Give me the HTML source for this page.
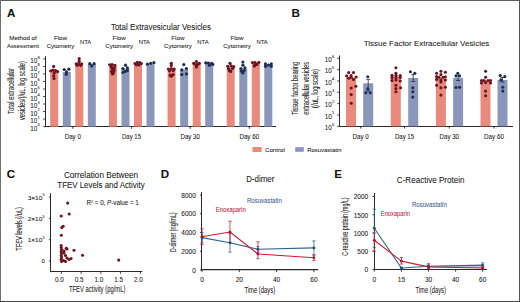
<!DOCTYPE html>
<html><head><meta charset="utf-8"><style>
html,body{margin:0;padding:0;background:#fff;}
body{width:520px;height:302px;overflow:hidden;}
svg{display:block;font-family:"Liberation Sans", sans-serif;}
</style></head><body>
<svg width="520" height="302" viewBox="0 0 520 302">
<rect x="0" y="0" width="520" height="302" fill="#fff"/>
<text x="7.0" y="16.6" font-size="11.6" text-anchor="start" fill="#111" stroke="#111" stroke-width="0.07" font-weight="bold" >A</text>
<text x="291.4" y="16.8" font-size="11.6" text-anchor="start" fill="#111" stroke="#111" stroke-width="0.07" font-weight="bold" >B</text>
<text x="6.7" y="178.0" font-size="11.6" text-anchor="start" fill="#111" stroke="#111" stroke-width="0.07" font-weight="bold" >C</text>
<text x="160.8" y="177.6" font-size="11.6" text-anchor="start" fill="#111" stroke="#111" stroke-width="0.07" font-weight="bold" >D</text>
<text x="334.3" y="178.4" font-size="11.6" text-anchor="start" fill="#111" stroke="#111" stroke-width="0.07" font-weight="bold" >E</text>
<text x="161" y="30" font-size="8.4" text-anchor="middle" fill="#222" stroke="#222" stroke-width="0.07" textLength="100" lengthAdjust="spacingAndGlyphs" >Total Extravesicular Vesicles</text>
<text x="23" y="40.2" font-size="6.1" text-anchor="middle" fill="#222" stroke="#222" stroke-width="0.07" textLength="27.5" lengthAdjust="spacingAndGlyphs" >Method of</text>
<text x="23" y="47.8" font-size="6.1" text-anchor="middle" fill="#222" stroke="#222" stroke-width="0.07" textLength="32" lengthAdjust="spacingAndGlyphs" >Assessment</text>
<text x="60.5" y="40.2" font-size="6.2" text-anchor="middle" fill="#222" stroke="#222" stroke-width="0.07" textLength="13.2" lengthAdjust="spacingAndGlyphs" >Flow</text>
<text x="60.5" y="47.8" font-size="6.2" text-anchor="middle" fill="#222" stroke="#222" stroke-width="0.07" textLength="27.7" lengthAdjust="spacingAndGlyphs" >Cytometry</text>
<text x="85.6" y="43.7" font-size="6.2" text-anchor="middle" fill="#222" stroke="#222" stroke-width="0.07" textLength="11.3" lengthAdjust="spacingAndGlyphs" >NTA</text>
<text x="119.2" y="40.2" font-size="6.2" text-anchor="middle" fill="#222" stroke="#222" stroke-width="0.07" textLength="13.2" lengthAdjust="spacingAndGlyphs" >Flow</text>
<text x="119.2" y="47.8" font-size="6.2" text-anchor="middle" fill="#222" stroke="#222" stroke-width="0.07" textLength="27.7" lengthAdjust="spacingAndGlyphs" >Cytometry</text>
<text x="144.3" y="43.7" font-size="6.2" text-anchor="middle" fill="#222" stroke="#222" stroke-width="0.07" textLength="11.3" lengthAdjust="spacingAndGlyphs" >NTA</text>
<text x="177.9" y="40.2" font-size="6.2" text-anchor="middle" fill="#222" stroke="#222" stroke-width="0.07" textLength="13.2" lengthAdjust="spacingAndGlyphs" >Flow</text>
<text x="177.9" y="47.8" font-size="6.2" text-anchor="middle" fill="#222" stroke="#222" stroke-width="0.07" textLength="27.7" lengthAdjust="spacingAndGlyphs" >Cytometry</text>
<text x="203.0" y="43.7" font-size="6.2" text-anchor="middle" fill="#222" stroke="#222" stroke-width="0.07" textLength="11.3" lengthAdjust="spacingAndGlyphs" >NTA</text>
<text x="237.0" y="40.2" font-size="6.2" text-anchor="middle" fill="#222" stroke="#222" stroke-width="0.07" textLength="13.2" lengthAdjust="spacingAndGlyphs" >Flow</text>
<text x="237.0" y="47.8" font-size="6.2" text-anchor="middle" fill="#222" stroke="#222" stroke-width="0.07" textLength="27.7" lengthAdjust="spacingAndGlyphs" >Cytometry</text>
<text x="262.09999999999997" y="43.7" font-size="6.2" text-anchor="middle" fill="#222" stroke="#222" stroke-width="0.07" textLength="11.3" lengthAdjust="spacingAndGlyphs" >NTA</text>
<line x1="45.5" y1="56.2" x2="45.5" y2="127.1" stroke="#2a2a2a" stroke-width="1"/>
<line x1="45" y1="126.5" x2="276" y2="126.5" stroke="#2a2a2a" stroke-width="1.1"/>
<line x1="43.2" y1="126.6" x2="45.4" y2="126.6" stroke="#2a2a2a" stroke-width="0.9"/>
<text x="37.2" y="130.79999999999998" font-size="6.3" text-anchor="end" fill="#222" stroke="#222" stroke-width="0.07" >10</text>
<text x="37.5" y="126.39999999999998" font-size="4" text-anchor="start" fill="#222" stroke="#222" stroke-width="0.07" >0</text>
<line x1="43.2" y1="119.08" x2="45.4" y2="119.08" stroke="#2a2a2a" stroke-width="0.9"/>
<text x="37.2" y="123.28" font-size="6.3" text-anchor="end" fill="#222" stroke="#222" stroke-width="0.07" >10</text>
<text x="37.5" y="118.88" font-size="4" text-anchor="start" fill="#222" stroke="#222" stroke-width="0.07" >1</text>
<line x1="43.2" y1="111.56" x2="45.4" y2="111.56" stroke="#2a2a2a" stroke-width="0.9"/>
<text x="37.2" y="115.76" font-size="6.3" text-anchor="end" fill="#222" stroke="#222" stroke-width="0.07" >10</text>
<text x="37.5" y="111.36" font-size="4" text-anchor="start" fill="#222" stroke="#222" stroke-width="0.07" >2</text>
<line x1="43.2" y1="104.03999999999999" x2="45.4" y2="104.03999999999999" stroke="#2a2a2a" stroke-width="0.9"/>
<text x="37.2" y="108.24" font-size="6.3" text-anchor="end" fill="#222" stroke="#222" stroke-width="0.07" >10</text>
<text x="37.5" y="103.83999999999999" font-size="4" text-anchor="start" fill="#222" stroke="#222" stroke-width="0.07" >3</text>
<line x1="43.2" y1="96.52" x2="45.4" y2="96.52" stroke="#2a2a2a" stroke-width="0.9"/>
<text x="37.2" y="100.72" font-size="6.3" text-anchor="end" fill="#222" stroke="#222" stroke-width="0.07" >10</text>
<text x="37.5" y="96.32" font-size="4" text-anchor="start" fill="#222" stroke="#222" stroke-width="0.07" >4</text>
<line x1="43.2" y1="89.0" x2="45.4" y2="89.0" stroke="#2a2a2a" stroke-width="0.9"/>
<text x="37.2" y="93.2" font-size="6.3" text-anchor="end" fill="#222" stroke="#222" stroke-width="0.07" >10</text>
<text x="37.5" y="88.8" font-size="4" text-anchor="start" fill="#222" stroke="#222" stroke-width="0.07" >5</text>
<line x1="43.2" y1="81.47999999999999" x2="45.4" y2="81.47999999999999" stroke="#2a2a2a" stroke-width="0.9"/>
<text x="37.2" y="85.67999999999999" font-size="6.3" text-anchor="end" fill="#222" stroke="#222" stroke-width="0.07" >10</text>
<text x="37.5" y="81.27999999999999" font-size="4" text-anchor="start" fill="#222" stroke="#222" stroke-width="0.07" >6</text>
<line x1="43.2" y1="73.96" x2="45.4" y2="73.96" stroke="#2a2a2a" stroke-width="0.9"/>
<text x="37.2" y="78.16" font-size="6.3" text-anchor="end" fill="#222" stroke="#222" stroke-width="0.07" >10</text>
<text x="37.5" y="73.75999999999999" font-size="4" text-anchor="start" fill="#222" stroke="#222" stroke-width="0.07" >7</text>
<line x1="43.2" y1="66.44" x2="45.4" y2="66.44" stroke="#2a2a2a" stroke-width="0.9"/>
<text x="37.2" y="70.64" font-size="6.3" text-anchor="end" fill="#222" stroke="#222" stroke-width="0.07" >10</text>
<text x="37.5" y="66.24" font-size="4" text-anchor="start" fill="#222" stroke="#222" stroke-width="0.07" >8</text>
<line x1="43.2" y1="58.92" x2="45.4" y2="58.92" stroke="#2a2a2a" stroke-width="0.9"/>
<text x="37.2" y="63.120000000000005" font-size="6.3" text-anchor="end" fill="#222" stroke="#222" stroke-width="0.07" >10</text>
<text x="37.5" y="58.720000000000006" font-size="4" text-anchor="start" fill="#222" stroke="#222" stroke-width="0.07" >9</text>
<text transform="translate(14.4,91) rotate(-90)" x="0" y="0" font-size="8.6" text-anchor="middle" fill="#222" stroke="#222" stroke-width="0.07" textLength="46" lengthAdjust="spacingAndGlyphs">Total extracellular</text>
<text transform="translate(24.6,90.6) rotate(-90)" x="0" y="0" font-size="8.6" text-anchor="middle" fill="#222" stroke="#222" stroke-width="0.07" textLength="59" lengthAdjust="spacingAndGlyphs">vesicles/(/uL, log scale)</text>
<rect x="50.2" y="71.5" width="8" height="55.099999999999994" fill="#e98a7c"/>
<rect x="62.800000000000004" y="71.9" width="8" height="54.69999999999999" fill="#8a97bb"/>
<rect x="75.30000000000001" y="64.6" width="8" height="62.0" fill="#e98a7c"/>
<rect x="87.80000000000001" y="64.0" width="8" height="62.599999999999994" fill="#8a97bb"/>
<line x1="72.8" y1="126.6" x2="72.8" y2="128.79999999999998" stroke="#2a2a2a" stroke-width="0.9"/>
<text x="72.8" y="138.8" font-size="6.7" text-anchor="middle" fill="#222" stroke="#222" stroke-width="0.07" textLength="16.2" lengthAdjust="spacingAndGlyphs" >Day 0</text>
<rect x="108.9" y="66.5" width="8" height="60.099999999999994" fill="#e98a7c"/>
<rect x="121.5" y="68.8" width="8" height="57.8" fill="#8a97bb"/>
<rect x="134.0" y="63.9" width="8" height="62.699999999999996" fill="#e98a7c"/>
<rect x="146.5" y="64.2" width="8" height="62.39999999999999" fill="#8a97bb"/>
<line x1="131.5" y1="126.6" x2="131.5" y2="128.79999999999998" stroke="#2a2a2a" stroke-width="0.9"/>
<text x="131.5" y="138.8" font-size="6.7" text-anchor="middle" fill="#222" stroke="#222" stroke-width="0.07" textLength="19.0" lengthAdjust="spacingAndGlyphs" >Day 15</text>
<rect x="167.6" y="70.0" width="8" height="56.599999999999994" fill="#e98a7c"/>
<rect x="180.2" y="69.5" width="8" height="57.099999999999994" fill="#8a97bb"/>
<rect x="192.7" y="63.8" width="8" height="62.8" fill="#e98a7c"/>
<rect x="205.2" y="63.6" width="8" height="62.99999999999999" fill="#8a97bb"/>
<line x1="190.20000000000002" y1="126.6" x2="190.20000000000002" y2="128.79999999999998" stroke="#2a2a2a" stroke-width="0.9"/>
<text x="190.20000000000002" y="138.8" font-size="6.7" text-anchor="middle" fill="#222" stroke="#222" stroke-width="0.07" textLength="19.4" lengthAdjust="spacingAndGlyphs" >Day 30</text>
<rect x="226.7" y="67.9" width="8" height="58.69999999999999" fill="#e98a7c"/>
<rect x="239.29999999999998" y="68.8" width="8" height="57.8" fill="#8a97bb"/>
<rect x="251.79999999999998" y="63.9" width="8" height="62.699999999999996" fill="#e98a7c"/>
<rect x="264.3" y="64.6" width="8" height="62.0" fill="#8a97bb"/>
<line x1="249.3" y1="126.6" x2="249.3" y2="128.79999999999998" stroke="#2a2a2a" stroke-width="0.9"/>
<text x="249.3" y="138.8" font-size="6.7" text-anchor="middle" fill="#222" stroke="#222" stroke-width="0.07" textLength="19.8" lengthAdjust="spacingAndGlyphs" >Day 60</text>
<circle cx="53.7" cy="66.4" r="1.6" fill="#6e1420"/>
<circle cx="50.800000000000004" cy="70.8" r="1.6" fill="#6e1420"/>
<circle cx="53.1" cy="70.2" r="1.6" fill="#6e1420"/>
<circle cx="55.6" cy="70.6" r="1.6" fill="#6e1420"/>
<circle cx="57.6" cy="71.6" r="1.6" fill="#6e1420"/>
<circle cx="54.2" cy="72.9" r="1.6" fill="#6e1420"/>
<circle cx="53.7" cy="75.9" r="1.6" fill="#6e1420"/>
<circle cx="54.0" cy="78.5" r="1.6" fill="#6e1420"/>
<circle cx="64.2" cy="69.5" r="1.6" fill="#1e2d52"/>
<circle cx="68.9" cy="69.2" r="1.6" fill="#1e2d52"/>
<circle cx="66.5" cy="71.9" r="1.6" fill="#1e2d52"/>
<circle cx="66.2" cy="74.3" r="1.6" fill="#1e2d52"/>
<circle cx="79.20000000000002" cy="58.7" r="1.6" fill="#6e1420"/>
<circle cx="79.20000000000002" cy="61.3" r="1.6" fill="#6e1420"/>
<circle cx="76.20000000000002" cy="63.8" r="1.6" fill="#6e1420"/>
<circle cx="78.80000000000001" cy="63.6" r="1.6" fill="#6e1420"/>
<circle cx="81.60000000000001" cy="63.8" r="1.6" fill="#6e1420"/>
<circle cx="77.20000000000002" cy="65.3" r="1.6" fill="#6e1420"/>
<circle cx="80.70000000000002" cy="65.3" r="1.6" fill="#6e1420"/>
<circle cx="89.80000000000001" cy="63.7" r="1.6" fill="#1e2d52"/>
<circle cx="94.10000000000001" cy="63.7" r="1.6" fill="#1e2d52"/>
<circle cx="91.80000000000001" cy="65.9" r="1.6" fill="#1e2d52"/>
<circle cx="109.7" cy="64.8" r="1.6" fill="#6e1420"/>
<circle cx="112.10000000000001" cy="64.6" r="1.6" fill="#6e1420"/>
<circle cx="114.9" cy="65.3" r="1.6" fill="#6e1420"/>
<circle cx="111.4" cy="67.2" r="1.6" fill="#6e1420"/>
<circle cx="114.4" cy="67.6" r="1.6" fill="#6e1420"/>
<circle cx="112.5" cy="69.4" r="1.6" fill="#6e1420"/>
<circle cx="114.10000000000001" cy="70.4" r="1.6" fill="#6e1420"/>
<circle cx="111.5" cy="71.6" r="1.6" fill="#6e1420"/>
<circle cx="113.30000000000001" cy="73.2" r="1.6" fill="#6e1420"/>
<circle cx="112.4" cy="74.0" r="1.6" fill="#6e1420"/>
<circle cx="125.5" cy="65.2" r="1.6" fill="#1e2d52"/>
<circle cx="122.9" cy="68.6" r="1.6" fill="#1e2d52"/>
<circle cx="127.4" cy="67.9" r="1.6" fill="#1e2d52"/>
<circle cx="127.4" cy="70.6" r="1.6" fill="#1e2d52"/>
<circle cx="122.9" cy="72.5" r="1.6" fill="#1e2d52"/>
<circle cx="125.1" cy="71.4" r="1.6" fill="#1e2d52"/>
<circle cx="135.0" cy="63.6" r="1.6" fill="#6e1420"/>
<circle cx="137.4" cy="62.4" r="1.6" fill="#6e1420"/>
<circle cx="139.8" cy="62.6" r="1.6" fill="#6e1420"/>
<circle cx="141.3" cy="63.6" r="1.6" fill="#6e1420"/>
<circle cx="136.5" cy="64.8" r="1.6" fill="#6e1420"/>
<circle cx="139.0" cy="64.8" r="1.6" fill="#6e1420"/>
<circle cx="147.4" cy="64.2" r="1.6" fill="#1e2d52"/>
<circle cx="150.7" cy="63.3" r="1.6" fill="#1e2d52"/>
<circle cx="153.9" cy="62.7" r="1.6" fill="#1e2d52"/>
<circle cx="171.29999999999998" cy="63.3" r="1.6" fill="#6e1420"/>
<circle cx="171.29999999999998" cy="65.4" r="1.6" fill="#6e1420"/>
<circle cx="168.4" cy="69.0" r="1.6" fill="#6e1420"/>
<circle cx="171.29999999999998" cy="68.6" r="1.6" fill="#6e1420"/>
<circle cx="174.2" cy="69.0" r="1.6" fill="#6e1420"/>
<circle cx="169.5" cy="70.8" r="1.6" fill="#6e1420"/>
<circle cx="173.2" cy="70.6" r="1.6" fill="#6e1420"/>
<circle cx="170.2" cy="75.2" r="1.6" fill="#6e1420"/>
<circle cx="173.2" cy="74.6" r="1.6" fill="#6e1420"/>
<circle cx="171.2" cy="76.2" r="1.6" fill="#6e1420"/>
<circle cx="183.79999999999998" cy="64.6" r="1.6" fill="#1e2d52"/>
<circle cx="181.79999999999998" cy="69.9" r="1.6" fill="#1e2d52"/>
<circle cx="186.39999999999998" cy="68.6" r="1.6" fill="#1e2d52"/>
<circle cx="181.79999999999998" cy="74.5" r="1.6" fill="#1e2d52"/>
<circle cx="186.39999999999998" cy="73.9" r="1.6" fill="#1e2d52"/>
<circle cx="196.39999999999998" cy="61.5" r="1.6" fill="#6e1420"/>
<circle cx="193.7" cy="63.3" r="1.6" fill="#6e1420"/>
<circle cx="199.29999999999998" cy="63.3" r="1.6" fill="#6e1420"/>
<circle cx="195.7" cy="64.6" r="1.6" fill="#6e1420"/>
<circle cx="197.7" cy="64.4" r="1.6" fill="#6e1420"/>
<circle cx="196.39999999999998" cy="67.0" r="1.6" fill="#6e1420"/>
<circle cx="205.79999999999998" cy="62.8" r="1.6" fill="#1e2d52"/>
<circle cx="208.39999999999998" cy="63.0" r="1.6" fill="#1e2d52"/>
<circle cx="211.6" cy="63.3" r="1.6" fill="#1e2d52"/>
<circle cx="212.79999999999998" cy="64.4" r="1.6" fill="#1e2d52"/>
<circle cx="209.39999999999998" cy="65.3" r="1.6" fill="#1e2d52"/>
<circle cx="230.0" cy="63.3" r="1.6" fill="#6e1420"/>
<circle cx="227.7" cy="66.3" r="1.6" fill="#6e1420"/>
<circle cx="231.1" cy="65.9" r="1.6" fill="#6e1420"/>
<circle cx="233.7" cy="66.6" r="1.6" fill="#6e1420"/>
<circle cx="228.6" cy="68.6" r="1.6" fill="#6e1420"/>
<circle cx="232.5" cy="68.4" r="1.6" fill="#6e1420"/>
<circle cx="229.39999999999998" cy="70.6" r="1.6" fill="#6e1420"/>
<circle cx="230.7" cy="71.4" r="1.6" fill="#6e1420"/>
<circle cx="242.89999999999998" cy="62.0" r="1.6" fill="#1e2d52"/>
<circle cx="242.89999999999998" cy="65.2" r="1.6" fill="#1e2d52"/>
<circle cx="240.89999999999998" cy="68.6" r="1.6" fill="#1e2d52"/>
<circle cx="244.89999999999998" cy="67.9" r="1.6" fill="#1e2d52"/>
<circle cx="241.49999999999997" cy="71.2" r="1.6" fill="#1e2d52"/>
<circle cx="244.2" cy="70.6" r="1.6" fill="#1e2d52"/>
<circle cx="242.89999999999998" cy="73.0" r="1.6" fill="#1e2d52"/>
<circle cx="252.49999999999997" cy="62.6" r="1.6" fill="#6e1420"/>
<circle cx="254.99999999999997" cy="62.6" r="1.6" fill="#6e1420"/>
<circle cx="258.79999999999995" cy="62.4" r="1.6" fill="#6e1420"/>
<circle cx="255.2" cy="64.6" r="1.6" fill="#6e1420"/>
<circle cx="257.0" cy="64.4" r="1.6" fill="#6e1420"/>
<circle cx="254.39999999999998" cy="65.9" r="1.6" fill="#6e1420"/>
<circle cx="265.5" cy="63.9" r="1.6" fill="#1e2d52"/>
<circle cx="265.5" cy="66.3" r="1.6" fill="#1e2d52"/>
<circle cx="268.5" cy="65.0" r="1.6" fill="#1e2d52"/>
<circle cx="271.3" cy="63.9" r="1.6" fill="#1e2d52"/>
<circle cx="271.3" cy="66.3" r="1.6" fill="#1e2d52"/>
<text x="426.5" y="46.3" font-size="8" text-anchor="middle" fill="#222" stroke="#222" stroke-width="0.07" textLength="125.7" lengthAdjust="spacingAndGlyphs" >Tissue Factor Extracellular Vesicles</text>
<line x1="339.5" y1="55.5" x2="339.5" y2="126.8" stroke="#2a2a2a" stroke-width="1"/>
<line x1="339" y1="126.5" x2="513" y2="126.5" stroke="#2a2a2a" stroke-width="1.1"/>
<line x1="337.3" y1="126.3" x2="339.4" y2="126.3" stroke="#2a2a2a" stroke-width="0.9"/>
<text x="331.8" y="129.9" font-size="6.3" text-anchor="end" fill="#222" stroke="#222" stroke-width="0.07" >10</text>
<text x="332.1" y="125.5" font-size="4" text-anchor="start" fill="#222" stroke="#222" stroke-width="0.07" >0</text>
<line x1="337.3" y1="114.97" x2="339.4" y2="114.97" stroke="#2a2a2a" stroke-width="0.9"/>
<text x="331.8" y="118.57" font-size="6.3" text-anchor="end" fill="#222" stroke="#222" stroke-width="0.07" >10</text>
<text x="332.1" y="114.16999999999999" font-size="4" text-anchor="start" fill="#222" stroke="#222" stroke-width="0.07" >1</text>
<line x1="337.3" y1="103.64" x2="339.4" y2="103.64" stroke="#2a2a2a" stroke-width="0.9"/>
<text x="331.8" y="107.24" font-size="6.3" text-anchor="end" fill="#222" stroke="#222" stroke-width="0.07" >10</text>
<text x="332.1" y="102.83999999999999" font-size="4" text-anchor="start" fill="#222" stroke="#222" stroke-width="0.07" >2</text>
<line x1="337.3" y1="92.31" x2="339.4" y2="92.31" stroke="#2a2a2a" stroke-width="0.9"/>
<text x="331.8" y="95.91" font-size="6.3" text-anchor="end" fill="#222" stroke="#222" stroke-width="0.07" >10</text>
<text x="332.1" y="91.50999999999999" font-size="4" text-anchor="start" fill="#222" stroke="#222" stroke-width="0.07" >3</text>
<line x1="337.3" y1="80.97999999999999" x2="339.4" y2="80.97999999999999" stroke="#2a2a2a" stroke-width="0.9"/>
<text x="331.8" y="84.57999999999998" font-size="6.3" text-anchor="end" fill="#222" stroke="#222" stroke-width="0.07" >10</text>
<text x="332.1" y="80.17999999999998" font-size="4" text-anchor="start" fill="#222" stroke="#222" stroke-width="0.07" >4</text>
<line x1="337.3" y1="69.65" x2="339.4" y2="69.65" stroke="#2a2a2a" stroke-width="0.9"/>
<text x="331.8" y="73.25" font-size="6.3" text-anchor="end" fill="#222" stroke="#222" stroke-width="0.07" >10</text>
<text x="332.1" y="68.85" font-size="4" text-anchor="start" fill="#222" stroke="#222" stroke-width="0.07" >5</text>
<line x1="337.3" y1="58.31999999999999" x2="339.4" y2="58.31999999999999" stroke="#2a2a2a" stroke-width="0.9"/>
<text x="331.8" y="61.919999999999995" font-size="6.3" text-anchor="end" fill="#222" stroke="#222" stroke-width="0.07" >10</text>
<text x="332.1" y="57.519999999999996" font-size="4" text-anchor="start" fill="#222" stroke="#222" stroke-width="0.07" >6</text>
<text transform="translate(298.4,88.5) rotate(-90)" x="0" y="0" font-size="8.2" text-anchor="middle" fill="#222" stroke="#222" stroke-width="0.07" textLength="53.2" lengthAdjust="spacingAndGlyphs">Tissue factor bearing</text>
<text transform="translate(308.8,88.3) rotate(-90)" x="0" y="0" font-size="8.2" text-anchor="middle" fill="#222" stroke="#222" stroke-width="0.07" textLength="52.8" lengthAdjust="spacingAndGlyphs">extracellular vesicles</text>
<text transform="translate(318.2,88.5) rotate(-90)" x="0" y="0" font-size="8.2" text-anchor="middle" fill="#222" stroke="#222" stroke-width="0.07" textLength="38.8" lengthAdjust="spacingAndGlyphs">(/uL, log scale)</text>
<rect x="346" y="77.5" width="10" height="48.8" fill="#e98a7c"/>
<rect x="363.2" y="83.3" width="10" height="43.0" fill="#8a97bb"/>
<line x1="360.7" y1="126.3" x2="360.7" y2="128.5" stroke="#2a2a2a" stroke-width="0.9"/>
<text x="360.7" y="139" font-size="6.7" text-anchor="middle" fill="#222" stroke="#222" stroke-width="0.07" textLength="16.2" lengthAdjust="spacingAndGlyphs" >Day 0</text>
<rect x="390.8" y="76.5" width="10" height="49.8" fill="#e98a7c"/>
<rect x="408.2" y="78" width="10" height="48.3" fill="#8a97bb"/>
<line x1="404.5" y1="126.3" x2="404.5" y2="128.5" stroke="#2a2a2a" stroke-width="0.9"/>
<text x="404.5" y="139" font-size="6.7" text-anchor="middle" fill="#222" stroke="#222" stroke-width="0.07" textLength="19.0" lengthAdjust="spacingAndGlyphs" >Day 15</text>
<rect x="435.9" y="78" width="10" height="48.3" fill="#e98a7c"/>
<rect x="453.1" y="78" width="10" height="48.3" fill="#8a97bb"/>
<line x1="449.3" y1="126.3" x2="449.3" y2="128.5" stroke="#2a2a2a" stroke-width="0.9"/>
<text x="449.3" y="139" font-size="6.7" text-anchor="middle" fill="#222" stroke="#222" stroke-width="0.07" textLength="19.4" lengthAdjust="spacingAndGlyphs" >Day 30</text>
<rect x="480.5" y="80.4" width="10" height="45.89999999999999" fill="#e98a7c"/>
<rect x="497.5" y="80" width="10" height="46.3" fill="#8a97bb"/>
<line x1="494" y1="126.3" x2="494" y2="128.5" stroke="#2a2a2a" stroke-width="0.9"/>
<text x="494" y="139" font-size="6.7" text-anchor="middle" fill="#222" stroke="#222" stroke-width="0.07" textLength="19.8" lengthAdjust="spacingAndGlyphs" >Day 60</text>
<line x1="368.2" y1="79.4" x2="368.2" y2="91" stroke="#1e2d52" stroke-width="0.8"/>
<line x1="366.2" y1="79.4" x2="370.2" y2="79.4" stroke="#1e2d52" stroke-width="0.8"/>
<line x1="366.2" y1="91" x2="370.2" y2="91" stroke="#1e2d52" stroke-width="0.8"/>
<line x1="413.2" y1="74.6" x2="413.2" y2="81.5" stroke="#1e2d52" stroke-width="0.8"/>
<line x1="411.2" y1="74.6" x2="415.2" y2="74.6" stroke="#1e2d52" stroke-width="0.8"/>
<line x1="411.2" y1="81.5" x2="415.2" y2="81.5" stroke="#1e2d52" stroke-width="0.8"/>
<line x1="458.1" y1="75.6" x2="458.1" y2="80.5" stroke="#1e2d52" stroke-width="0.8"/>
<line x1="456.1" y1="75.6" x2="460.1" y2="75.6" stroke="#1e2d52" stroke-width="0.8"/>
<line x1="456.1" y1="80.5" x2="460.1" y2="80.5" stroke="#1e2d52" stroke-width="0.8"/>
<line x1="502.5" y1="77.5" x2="502.5" y2="82" stroke="#1e2d52" stroke-width="0.8"/>
<line x1="500.5" y1="77.5" x2="504.5" y2="77.5" stroke="#1e2d52" stroke-width="0.8"/>
<line x1="500.5" y1="82" x2="504.5" y2="82" stroke="#1e2d52" stroke-width="0.8"/>
<circle cx="348.7" cy="72.6" r="1.55" fill="#6e1420"/>
<circle cx="353.5" cy="72.6" r="1.55" fill="#6e1420"/>
<circle cx="346.6" cy="75.9" r="1.55" fill="#6e1420"/>
<circle cx="351.1" cy="75.6" r="1.55" fill="#6e1420"/>
<circle cx="356.2" cy="77.0" r="1.55" fill="#6e1420"/>
<circle cx="348.7" cy="78.3" r="1.55" fill="#6e1420"/>
<circle cx="353.5" cy="79.4" r="1.55" fill="#6e1420"/>
<circle cx="351.2" cy="88.0" r="1.55" fill="#6e1420"/>
<circle cx="355.9" cy="86.3" r="1.55" fill="#6e1420"/>
<circle cx="351.2" cy="94.6" r="1.55" fill="#6e1420"/>
<circle cx="351.2" cy="103.3" r="1.55" fill="#6e1420"/>
<circle cx="351.1" cy="77.2" r="1.55" fill="#6e1420"/>
<circle cx="395.9" cy="67.7" r="1.55" fill="#6e1420"/>
<circle cx="395.9" cy="73.2" r="1.55" fill="#6e1420"/>
<circle cx="392" cy="75.2" r="1.55" fill="#6e1420"/>
<circle cx="396" cy="75.2" r="1.55" fill="#6e1420"/>
<circle cx="400.2" cy="75.5" r="1.55" fill="#6e1420"/>
<circle cx="392" cy="77.4" r="1.55" fill="#6e1420"/>
<circle cx="396" cy="77.4" r="1.55" fill="#6e1420"/>
<circle cx="400.2" cy="77.4" r="1.55" fill="#6e1420"/>
<circle cx="392" cy="80.5" r="1.55" fill="#6e1420"/>
<circle cx="396" cy="80" r="1.55" fill="#6e1420"/>
<circle cx="400.2" cy="81" r="1.55" fill="#6e1420"/>
<circle cx="395.9" cy="85.2" r="1.55" fill="#6e1420"/>
<circle cx="400.6" cy="87.8" r="1.55" fill="#6e1420"/>
<circle cx="395.9" cy="88.5" r="1.55" fill="#6e1420"/>
<circle cx="395.9" cy="91.8" r="1.55" fill="#6e1420"/>
<circle cx="436.6" cy="73.2" r="1.55" fill="#6e1420"/>
<circle cx="440.9" cy="71.3" r="1.55" fill="#6e1420"/>
<circle cx="445.4" cy="72.2" r="1.55" fill="#6e1420"/>
<circle cx="436.6" cy="76.6" r="1.55" fill="#6e1420"/>
<circle cx="440.9" cy="74.6" r="1.55" fill="#6e1420"/>
<circle cx="439" cy="77.2" r="1.55" fill="#6e1420"/>
<circle cx="443" cy="77.2" r="1.55" fill="#6e1420"/>
<circle cx="445.4" cy="76.8" r="1.55" fill="#6e1420"/>
<circle cx="436.6" cy="79.4" r="1.55" fill="#6e1420"/>
<circle cx="440.9" cy="80" r="1.55" fill="#6e1420"/>
<circle cx="445.4" cy="80" r="1.55" fill="#6e1420"/>
<circle cx="440.9" cy="81.9" r="1.55" fill="#6e1420"/>
<circle cx="436.6" cy="85.2" r="1.55" fill="#6e1420"/>
<circle cx="440.9" cy="87.8" r="1.55" fill="#6e1420"/>
<circle cx="445.4" cy="87.2" r="1.55" fill="#6e1420"/>
<circle cx="440.9" cy="95.1" r="1.55" fill="#6e1420"/>
<circle cx="485.6" cy="71.3" r="1.55" fill="#6e1420"/>
<circle cx="485.6" cy="77.2" r="1.55" fill="#6e1420"/>
<circle cx="481.5" cy="80.5" r="1.55" fill="#6e1420"/>
<circle cx="484" cy="80.5" r="1.55" fill="#6e1420"/>
<circle cx="488" cy="80.5" r="1.55" fill="#6e1420"/>
<circle cx="490.5" cy="80.5" r="1.55" fill="#6e1420"/>
<circle cx="481.5" cy="83" r="1.55" fill="#6e1420"/>
<circle cx="485.6" cy="82.6" r="1.55" fill="#6e1420"/>
<circle cx="490.5" cy="83" r="1.55" fill="#6e1420"/>
<circle cx="485.6" cy="91.1" r="1.55" fill="#6e1420"/>
<circle cx="485.6" cy="95.8" r="1.55" fill="#6e1420"/>
<circle cx="367.8" cy="76.7" r="1.55" fill="#1e2d52"/>
<circle cx="367.8" cy="88.8" r="1.55" fill="#1e2d52"/>
<circle cx="365.8" cy="92.8" r="1.55" fill="#1e2d52"/>
<circle cx="370.2" cy="92.8" r="1.55" fill="#1e2d52"/>
<circle cx="410.4" cy="71.7" r="1.55" fill="#1e2d52"/>
<circle cx="414.8" cy="73.2" r="1.55" fill="#1e2d52"/>
<circle cx="412.8" cy="87.8" r="1.55" fill="#1e2d52"/>
<circle cx="412.8" cy="91.8" r="1.55" fill="#1e2d52"/>
<circle cx="412.8" cy="97.1" r="1.55" fill="#1e2d52"/>
<circle cx="457.8" cy="73.2" r="1.55" fill="#1e2d52"/>
<circle cx="456" cy="75.9" r="1.55" fill="#1e2d52"/>
<circle cx="459.6" cy="75.9" r="1.55" fill="#1e2d52"/>
<circle cx="456" cy="87.5" r="1.55" fill="#1e2d52"/>
<circle cx="459.6" cy="87.2" r="1.55" fill="#1e2d52"/>
<circle cx="500.2" cy="75.6" r="1.55" fill="#1e2d52"/>
<circle cx="504.8" cy="76.6" r="1.55" fill="#1e2d52"/>
<circle cx="500.8" cy="79.9" r="1.55" fill="#1e2d52"/>
<circle cx="502.8" cy="87.2" r="1.55" fill="#1e2d52"/>
<circle cx="502.8" cy="91.1" r="1.55" fill="#1e2d52"/>
<rect x="252.5" y="147" width="9.2" height="5" fill="#e98a7c"/>
<text x="265" y="151.6" font-size="6.1" text-anchor="start" fill="#222" stroke="#222" stroke-width="0.07" textLength="19.8" lengthAdjust="spacingAndGlyphs" >Control</text>
<rect x="295.2" y="147.2" width="8.6" height="4.6" fill="#8c93c6"/>
<text x="307.2" y="151.6" font-size="6.1" text-anchor="start" fill="#222" stroke="#222" stroke-width="0.07" textLength="34.3" lengthAdjust="spacingAndGlyphs" >Rosuvastatin</text>
<text x="101" y="177.8" font-size="8.5" text-anchor="middle" fill="#222" stroke="#222" stroke-width="0.07" textLength="74.2" lengthAdjust="spacingAndGlyphs" >Correlation Between</text>
<text x="101" y="187.9" font-size="8.5" text-anchor="middle" fill="#222" stroke="#222" stroke-width="0.07" textLength="87.3" lengthAdjust="spacingAndGlyphs" >TFEV Levels and Activity</text>
<line x1="50.5" y1="193.3" x2="50.5" y2="272.1" stroke="#2a2a2a" stroke-width="1"/>
<line x1="50" y1="271.5" x2="142.3" y2="271.5" stroke="#2a2a2a" stroke-width="1"/>
<line x1="48.9" y1="261.0" x2="50.9" y2="261.0" stroke="#2a2a2a" stroke-width="0.9"/>
<text x="44.8" y="263.2" font-size="6" text-anchor="end" fill="#222" stroke="#222" stroke-width="0.07" >0</text>
<line x1="48.9" y1="239.7" x2="50.9" y2="239.7" stroke="#2a2a2a" stroke-width="0.9"/>
<text x="42.3" y="242.2" font-size="6.2" text-anchor="end" fill="#222" stroke="#222" stroke-width="0.07" textLength="14.6" lengthAdjust="spacingAndGlyphs" >1×10</text>
<text x="42.6" y="238.89999999999998" font-size="3.8" text-anchor="start" fill="#222" stroke="#222" stroke-width="0.07" >5</text>
<line x1="48.9" y1="218.4" x2="50.9" y2="218.4" stroke="#2a2a2a" stroke-width="0.9"/>
<text x="42.3" y="220.9" font-size="6.2" text-anchor="end" fill="#222" stroke="#222" stroke-width="0.07" textLength="14.6" lengthAdjust="spacingAndGlyphs" >2×10</text>
<text x="42.6" y="217.6" font-size="3.8" text-anchor="start" fill="#222" stroke="#222" stroke-width="0.07" >5</text>
<line x1="48.9" y1="197.1" x2="50.9" y2="197.1" stroke="#2a2a2a" stroke-width="0.9"/>
<text x="42.3" y="199.6" font-size="6.2" text-anchor="end" fill="#222" stroke="#222" stroke-width="0.07" textLength="14.6" lengthAdjust="spacingAndGlyphs" >3×10</text>
<text x="42.6" y="196.29999999999998" font-size="3.8" text-anchor="start" fill="#222" stroke="#222" stroke-width="0.07" >5</text>
<line x1="61.4" y1="271.6" x2="61.4" y2="273.8" stroke="#2a2a2a" stroke-width="0.9"/>
<text x="59.4" y="282.0" font-size="6.4" text-anchor="middle" fill="#222" stroke="#222" stroke-width="0.07" >0.0</text>
<line x1="81.15" y1="271.6" x2="81.15" y2="273.8" stroke="#2a2a2a" stroke-width="0.9"/>
<text x="79.15" y="282.0" font-size="6.4" text-anchor="middle" fill="#222" stroke="#222" stroke-width="0.07" >0.5</text>
<line x1="100.9" y1="271.6" x2="100.9" y2="273.8" stroke="#2a2a2a" stroke-width="0.9"/>
<text x="98.9" y="282.0" font-size="6.4" text-anchor="middle" fill="#222" stroke="#222" stroke-width="0.07" >1.0</text>
<line x1="120.65" y1="271.6" x2="120.65" y2="273.8" stroke="#2a2a2a" stroke-width="0.9"/>
<text x="118.65" y="282.0" font-size="6.4" text-anchor="middle" fill="#222" stroke="#222" stroke-width="0.07" >1.5</text>
<line x1="140.4" y1="271.6" x2="140.4" y2="273.8" stroke="#2a2a2a" stroke-width="0.9"/>
<text x="138.4" y="282.0" font-size="6.4" text-anchor="middle" fill="#222" stroke="#222" stroke-width="0.07" >2.0</text>
<text transform="translate(21.8,228.9) rotate(-90)" x="0" y="0" font-size="8.6" text-anchor="middle" fill="#222" stroke="#222" stroke-width="0.07" textLength="43.7" lengthAdjust="spacingAndGlyphs">TFEV levels (/uL)</text>
<text x="97.2" y="292.2" font-size="8.6" text-anchor="middle" fill="#222" stroke="#222" stroke-width="0.07" textLength="56.5" lengthAdjust="spacingAndGlyphs" >TFEV activity (pg/mL)</text>
<text x="86.5" y="205.4" font-size="6.5" text-anchor="start" fill="#222" stroke="#222" stroke-width="0.07" textLength="52.3" lengthAdjust="spacingAndGlyphs" >R<tspan font-size="3.8" dy="-2.6">2</tspan><tspan dy="2.6"> = 0, </tspan><tspan font-style="italic">P</tspan>-value = 1</text>
<circle cx="67.7" cy="203.1" r="1.55" fill="#6e1420"/>
<circle cx="69.2" cy="214" r="1.55" fill="#6e1420"/>
<circle cx="61.2" cy="216" r="1.55" fill="#6e1420"/>
<circle cx="63.1" cy="226.2" r="1.55" fill="#6e1420"/>
<circle cx="61.8" cy="227.6" r="1.55" fill="#6e1420"/>
<circle cx="61.3" cy="235.3" r="1.55" fill="#6e1420"/>
<circle cx="61.2" cy="245.5" r="1.55" fill="#6e1420"/>
<circle cx="61.2" cy="247.5" r="1.55" fill="#6e1420"/>
<circle cx="61.5" cy="249.5" r="1.55" fill="#6e1420"/>
<circle cx="61.2" cy="251.5" r="1.55" fill="#6e1420"/>
<circle cx="61.5" cy="253.5" r="1.55" fill="#6e1420"/>
<circle cx="61.2" cy="255.5" r="1.55" fill="#6e1420"/>
<circle cx="61.5" cy="257.5" r="1.55" fill="#6e1420"/>
<circle cx="61.2" cy="259.5" r="1.55" fill="#6e1420"/>
<circle cx="61.6" cy="261.5" r="1.55" fill="#6e1420"/>
<circle cx="66.2" cy="248.2" r="1.55" fill="#6e1420"/>
<circle cx="74" cy="250.2" r="1.55" fill="#6e1420"/>
<circle cx="82.6" cy="255.3" r="1.55" fill="#6e1420"/>
<circle cx="118.7" cy="260.1" r="1.55" fill="#6e1420"/>
<circle cx="64" cy="253" r="1.55" fill="#6e1420"/>
<circle cx="65.5" cy="255.5" r="1.55" fill="#6e1420"/>
<circle cx="67" cy="258" r="1.55" fill="#6e1420"/>
<circle cx="69" cy="259.5" r="1.55" fill="#6e1420"/>
<circle cx="71" cy="258.5" r="1.55" fill="#6e1420"/>
<circle cx="63.5" cy="260.5" r="1.55" fill="#6e1420"/>
<circle cx="65.5" cy="261.5" r="1.55" fill="#6e1420"/>
<circle cx="64" cy="251" r="1.55" fill="#6e1420"/>
<circle cx="67" cy="249" r="1.55" fill="#6e1420"/>
<text x="260.3" y="182.4" font-size="8.8" text-anchor="middle" fill="#222" stroke="#222" stroke-width="0.07" textLength="28.3" lengthAdjust="spacingAndGlyphs" >D-dimer</text>
<line x1="201.5" y1="192" x2="201.5" y2="270.4" stroke="#2a2a2a" stroke-width="1"/>
<line x1="201" y1="269.6" x2="318.2" y2="269.6" stroke="#2a2a2a" stroke-width="1.1"/>
<line x1="200" y1="269.9" x2="202" y2="269.9" stroke="#2a2a2a" stroke-width="0.9"/>
<text x="195.8" y="272.5" font-size="6.5" text-anchor="end" fill="#222" stroke="#222" stroke-width="0.07" >0</text>
<line x1="200" y1="251.2" x2="202" y2="251.2" stroke="#2a2a2a" stroke-width="0.9"/>
<text x="195.8" y="253.79999999999998" font-size="6.5" text-anchor="end" fill="#222" stroke="#222" stroke-width="0.07" >2000</text>
<line x1="200" y1="232.49999999999997" x2="202" y2="232.49999999999997" stroke="#2a2a2a" stroke-width="0.9"/>
<text x="195.8" y="235.09999999999997" font-size="6.5" text-anchor="end" fill="#222" stroke="#222" stroke-width="0.07" >4000</text>
<line x1="200" y1="213.79999999999998" x2="202" y2="213.79999999999998" stroke="#2a2a2a" stroke-width="0.9"/>
<text x="195.8" y="216.39999999999998" font-size="6.5" text-anchor="end" fill="#222" stroke="#222" stroke-width="0.07" >6000</text>
<line x1="200" y1="195.09999999999997" x2="202" y2="195.09999999999997" stroke="#2a2a2a" stroke-width="0.9"/>
<text x="195.8" y="197.69999999999996" font-size="6.5" text-anchor="end" fill="#222" stroke="#222" stroke-width="0.07" >8000</text>
<line x1="202.0" y1="269.9" x2="202.0" y2="272.09999999999997" stroke="#2a2a2a" stroke-width="0.9"/>
<text x="202.0" y="281.7" font-size="6.5" text-anchor="middle" fill="#222" stroke="#222" stroke-width="0.07" >0</text>
<line x1="239.3" y1="269.9" x2="239.3" y2="272.09999999999997" stroke="#2a2a2a" stroke-width="0.9"/>
<text x="239.3" y="281.7" font-size="6.5" text-anchor="middle" fill="#222" stroke="#222" stroke-width="0.07" >20</text>
<line x1="276.6" y1="269.9" x2="276.6" y2="272.09999999999997" stroke="#2a2a2a" stroke-width="0.9"/>
<text x="276.6" y="281.7" font-size="6.5" text-anchor="middle" fill="#222" stroke="#222" stroke-width="0.07" >40</text>
<line x1="313.9" y1="269.9" x2="313.9" y2="272.09999999999997" stroke="#2a2a2a" stroke-width="0.9"/>
<text x="313.9" y="281.7" font-size="6.5" text-anchor="middle" fill="#222" stroke="#222" stroke-width="0.07" >60</text>
<text transform="translate(175.8,232.3) rotate(-90)" x="0" y="0" font-size="8.6" text-anchor="middle" fill="#222" stroke="#222" stroke-width="0.07" textLength="40" lengthAdjust="spacingAndGlyphs">D-dimer (ng/mL)</text>
<text x="259.8" y="292.8" font-size="8.6" text-anchor="middle" fill="#222" stroke="#222" stroke-width="0.07" textLength="30.7" lengthAdjust="spacingAndGlyphs" >Time (days)</text>
<line x1="202.0" y1="232.49999999999997" x2="202.0" y2="242.78499999999997" stroke="#2f6590" stroke-width="0.8"/>
<line x1="200.4" y1="232.49999999999997" x2="203.6" y2="232.49999999999997" stroke="#2f6590" stroke-width="0.8"/>
<line x1="200.4" y1="242.78499999999997" x2="203.6" y2="242.78499999999997" stroke="#2f6590" stroke-width="0.8"/>
<line x1="229.975" y1="233.43499999999997" x2="229.975" y2="252.135" stroke="#2f6590" stroke-width="0.8"/>
<line x1="228.375" y1="233.43499999999997" x2="231.575" y2="233.43499999999997" stroke="#2f6590" stroke-width="0.8"/>
<line x1="228.375" y1="252.135" x2="231.575" y2="252.135" stroke="#2f6590" stroke-width="0.8"/>
<line x1="257.95" y1="246.52499999999998" x2="257.95" y2="252.135" stroke="#2f6590" stroke-width="0.8"/>
<line x1="256.34999999999997" y1="246.52499999999998" x2="259.55" y2="246.52499999999998" stroke="#2f6590" stroke-width="0.8"/>
<line x1="256.34999999999997" y1="252.135" x2="259.55" y2="252.135" stroke="#2f6590" stroke-width="0.8"/>
<line x1="313.9" y1="240.91499999999996" x2="313.9" y2="254.93999999999997" stroke="#2f6590" stroke-width="0.8"/>
<line x1="312.29999999999995" y1="240.91499999999996" x2="315.5" y2="240.91499999999996" stroke="#2f6590" stroke-width="0.8"/>
<line x1="312.29999999999995" y1="254.93999999999997" x2="315.5" y2="254.93999999999997" stroke="#2f6590" stroke-width="0.8"/>
<line x1="202.0" y1="228.76" x2="202.0" y2="244.65499999999997" stroke="#c8203f" stroke-width="0.8"/>
<line x1="200.4" y1="228.76" x2="203.6" y2="228.76" stroke="#c8203f" stroke-width="0.8"/>
<line x1="200.4" y1="244.65499999999997" x2="203.6" y2="244.65499999999997" stroke="#c8203f" stroke-width="0.8"/>
<line x1="229.975" y1="221.27999999999997" x2="229.975" y2="242.78499999999997" stroke="#c8203f" stroke-width="0.8"/>
<line x1="228.375" y1="221.27999999999997" x2="231.575" y2="221.27999999999997" stroke="#c8203f" stroke-width="0.8"/>
<line x1="228.375" y1="242.78499999999997" x2="231.575" y2="242.78499999999997" stroke="#c8203f" stroke-width="0.8"/>
<line x1="257.95" y1="241.84999999999997" x2="257.95" y2="258.67999999999995" stroke="#c8203f" stroke-width="0.8"/>
<line x1="256.34999999999997" y1="241.84999999999997" x2="259.55" y2="241.84999999999997" stroke="#c8203f" stroke-width="0.8"/>
<line x1="256.34999999999997" y1="258.67999999999995" x2="259.55" y2="258.67999999999995" stroke="#c8203f" stroke-width="0.8"/>
<line x1="313.9" y1="254.93999999999997" x2="313.9" y2="260.54999999999995" stroke="#c8203f" stroke-width="0.8"/>
<line x1="312.29999999999995" y1="254.93999999999997" x2="315.5" y2="254.93999999999997" stroke="#c8203f" stroke-width="0.8"/>
<line x1="312.29999999999995" y1="260.54999999999995" x2="315.5" y2="260.54999999999995" stroke="#c8203f" stroke-width="0.8"/>
<polyline points="202.0,237.6 230.0,242.8 257.9,249.3 313.9,247.9" fill="none" stroke="#2f6590" stroke-width="1.1" stroke-linejoin="round"/>
<polyline points="202.0,236.7 230.0,232.0 257.9,254.0 313.9,257.7" fill="none" stroke="#c8203f" stroke-width="1.1" stroke-linejoin="round"/>
<circle cx="202.0" cy="237.64249999999998" r="1.4" fill="#1f4a70"/>
<circle cx="229.975" cy="242.78499999999997" r="1.4" fill="#1f4a70"/>
<circle cx="257.95" cy="249.32999999999998" r="1.4" fill="#1f4a70"/>
<circle cx="313.9" cy="247.92749999999998" r="1.4" fill="#1f4a70"/>
<circle cx="202.0" cy="236.70749999999998" r="1.4" fill="#a8102c"/>
<circle cx="229.975" cy="232.03249999999997" r="1.4" fill="#a8102c"/>
<circle cx="257.95" cy="254.00499999999997" r="1.4" fill="#a8102c"/>
<circle cx="313.9" cy="257.745" r="1.4" fill="#a8102c"/>
<text x="247" y="203.1" font-size="6.5" text-anchor="start" fill="#3a6090" stroke="#3a6090" stroke-width="0.07" textLength="34.8" lengthAdjust="spacingAndGlyphs" >Rosuvastatin</text>
<text x="215.7" y="212.0" font-size="6.4" text-anchor="start" fill="#b5284a" stroke="#b5284a" stroke-width="0.07" textLength="30" lengthAdjust="spacingAndGlyphs" >Enoxaparin</text>
<text x="430.7" y="182.6" font-size="8.8" text-anchor="middle" fill="#222" stroke="#222" stroke-width="0.07" textLength="67.7" lengthAdjust="spacingAndGlyphs" >C-Reactive Protein</text>
<line x1="374.5" y1="193" x2="374.5" y2="270.0" stroke="#2a2a2a" stroke-width="1"/>
<line x1="374" y1="269.5" x2="487" y2="269.5" stroke="#2a2a2a" stroke-width="1.1"/>
<line x1="372.5" y1="269.5" x2="374.5" y2="269.5" stroke="#2a2a2a" stroke-width="0.9"/>
<text x="368.2" y="272.4" font-size="6.5" text-anchor="end" fill="#222" stroke="#222" stroke-width="0.07" >0</text>
<line x1="372.5" y1="251.25" x2="374.5" y2="251.25" stroke="#2a2a2a" stroke-width="0.9"/>
<text x="368.2" y="254.15" font-size="6.5" text-anchor="end" fill="#222" stroke="#222" stroke-width="0.07" >500</text>
<line x1="372.5" y1="233.0" x2="374.5" y2="233.0" stroke="#2a2a2a" stroke-width="0.9"/>
<text x="368.2" y="235.9" font-size="6.5" text-anchor="end" fill="#222" stroke="#222" stroke-width="0.07" >1000</text>
<line x1="372.5" y1="214.75" x2="374.5" y2="214.75" stroke="#2a2a2a" stroke-width="0.9"/>
<text x="368.2" y="217.65" font-size="6.5" text-anchor="end" fill="#222" stroke="#222" stroke-width="0.07" >1500</text>
<line x1="372.5" y1="196.5" x2="374.5" y2="196.5" stroke="#2a2a2a" stroke-width="0.9"/>
<text x="368.2" y="199.4" font-size="6.5" text-anchor="end" fill="#222" stroke="#222" stroke-width="0.07" >2000</text>
<line x1="374.3" y1="269.5" x2="374.3" y2="271.7" stroke="#2a2a2a" stroke-width="0.9"/>
<text x="374.3" y="281.5" font-size="6.5" text-anchor="middle" fill="#222" stroke="#222" stroke-width="0.07" >0</text>
<line x1="401.4" y1="269.5" x2="401.4" y2="271.7" stroke="#2a2a2a" stroke-width="0.9"/>
<text x="401.4" y="281.5" font-size="6.5" text-anchor="middle" fill="#222" stroke="#222" stroke-width="0.07" >15</text>
<line x1="428.5" y1="269.5" x2="428.5" y2="271.7" stroke="#2a2a2a" stroke-width="0.9"/>
<text x="428.5" y="281.5" font-size="6.5" text-anchor="middle" fill="#222" stroke="#222" stroke-width="0.07" >30</text>
<line x1="455.6" y1="269.5" x2="455.6" y2="271.7" stroke="#2a2a2a" stroke-width="0.9"/>
<text x="455.6" y="281.5" font-size="6.5" text-anchor="middle" fill="#222" stroke="#222" stroke-width="0.07" >40</text>
<line x1="482.7" y1="269.5" x2="482.7" y2="271.7" stroke="#2a2a2a" stroke-width="0.9"/>
<text x="482.7" y="281.5" font-size="6.5" text-anchor="middle" fill="#222" stroke="#222" stroke-width="0.07" >60</text>
<text transform="translate(348,226.6) rotate(-90)" x="0" y="0" font-size="8.6" text-anchor="middle" fill="#222" stroke="#222" stroke-width="0.07" textLength="58.4" lengthAdjust="spacingAndGlyphs">C-reactive protein (mg/L)</text>
<text x="430.7" y="292.7" font-size="8.6" text-anchor="middle" fill="#222" stroke="#222" stroke-width="0.07" textLength="30.4" lengthAdjust="spacingAndGlyphs" >Time (days)</text>
<polygon points="428.5,266.2 482.7,265.1 482.7,268.0 428.5,266.9" fill="#a9b3cf" opacity="0.8"/>
<line x1="374.3" y1="209.275" x2="374.3" y2="247.6" stroke="#2f6590" stroke-width="0.8"/>
<line x1="372.7" y1="209.275" x2="375.90000000000003" y2="209.275" stroke="#2f6590" stroke-width="0.8"/>
<line x1="372.7" y1="247.6" x2="375.90000000000003" y2="247.6" stroke="#2f6590" stroke-width="0.8"/>
<line x1="401.4" y1="267.31" x2="401.4" y2="268.77" stroke="#2f6590" stroke-width="0.8"/>
<line x1="399.79999999999995" y1="267.31" x2="403.0" y2="267.31" stroke="#2f6590" stroke-width="0.8"/>
<line x1="399.79999999999995" y1="268.77" x2="403.0" y2="268.77" stroke="#2f6590" stroke-width="0.8"/>
<line x1="428.5" y1="263.66" x2="428.5" y2="268.77" stroke="#2f6590" stroke-width="0.8"/>
<line x1="426.9" y1="263.66" x2="430.1" y2="263.66" stroke="#2f6590" stroke-width="0.8"/>
<line x1="426.9" y1="268.77" x2="430.1" y2="268.77" stroke="#2f6590" stroke-width="0.8"/>
<line x1="482.7" y1="262.93" x2="482.7" y2="268.04" stroke="#2f6590" stroke-width="0.8"/>
<line x1="481.09999999999997" y1="262.93" x2="484.3" y2="262.93" stroke="#2f6590" stroke-width="0.8"/>
<line x1="481.09999999999997" y1="268.04" x2="484.3" y2="268.04" stroke="#2f6590" stroke-width="0.8"/>
<line x1="374.3" y1="233.0" x2="374.3" y2="251.25" stroke="#c8203f" stroke-width="0.8"/>
<line x1="372.7" y1="233.0" x2="375.90000000000003" y2="233.0" stroke="#c8203f" stroke-width="0.8"/>
<line x1="372.7" y1="251.25" x2="375.90000000000003" y2="251.25" stroke="#c8203f" stroke-width="0.8"/>
<line x1="401.4" y1="257.455" x2="401.4" y2="264.025" stroke="#c8203f" stroke-width="0.8"/>
<line x1="399.79999999999995" y1="257.455" x2="403.0" y2="257.455" stroke="#c8203f" stroke-width="0.8"/>
<line x1="399.79999999999995" y1="264.025" x2="403.0" y2="264.025" stroke="#c8203f" stroke-width="0.8"/>
<line x1="428.5" y1="265.12" x2="428.5" y2="268.405" stroke="#c8203f" stroke-width="0.8"/>
<line x1="426.9" y1="265.12" x2="430.1" y2="265.12" stroke="#c8203f" stroke-width="0.8"/>
<line x1="426.9" y1="268.405" x2="430.1" y2="268.405" stroke="#c8203f" stroke-width="0.8"/>
<line x1="482.7" y1="266.58" x2="482.7" y2="268.77" stroke="#c8203f" stroke-width="0.8"/>
<line x1="481.09999999999997" y1="266.58" x2="484.3" y2="266.58" stroke="#c8203f" stroke-width="0.8"/>
<line x1="481.09999999999997" y1="268.77" x2="484.3" y2="268.77" stroke="#c8203f" stroke-width="0.8"/>
<polyline points="374.3,228.3 401.4,268.0 428.5,266.2 482.7,265.1" fill="none" stroke="#2f6590" stroke-width="1.1" stroke-linejoin="round"/>
<polyline points="374.3,240.3 401.4,261.1 428.5,266.9 482.7,268.0" fill="none" stroke="#c8203f" stroke-width="1.1" stroke-linejoin="round"/>
<circle cx="374.3" cy="228.255" r="1.4" fill="#1f4a70"/>
<circle cx="401.4" cy="268.04" r="1.4" fill="#1f4a70"/>
<circle cx="428.5" cy="266.215" r="1.4" fill="#1f4a70"/>
<circle cx="482.7" cy="265.12" r="1.4" fill="#1f4a70"/>
<circle cx="374.3" cy="240.3" r="1.4" fill="#a8102c"/>
<circle cx="401.4" cy="261.105" r="1.4" fill="#a8102c"/>
<circle cx="428.5" cy="266.945" r="1.4" fill="#a8102c"/>
<circle cx="482.7" cy="268.04" r="1.4" fill="#a8102c"/>
<text x="412" y="207.3" font-size="6.5" text-anchor="start" fill="#3a6090" stroke="#3a6090" stroke-width="0.07" textLength="34.8" lengthAdjust="spacingAndGlyphs" >Rosuvastatin</text>
<text x="380.8" y="216.0" font-size="6.4" text-anchor="start" fill="#b5284a" stroke="#b5284a" stroke-width="0.07" textLength="29.1" lengthAdjust="spacingAndGlyphs" >Enoxaparin</text>
<rect x="0" y="0" width="520" height="1" fill="#5c5c5c"/><rect x="0" y="0" width="1" height="302" fill="#707070"/><rect x="519" y="0" width="1" height="302" fill="#555"/><rect x="0" y="301" width="520" height="1" fill="#454545"/>
</svg>
</body></html>
